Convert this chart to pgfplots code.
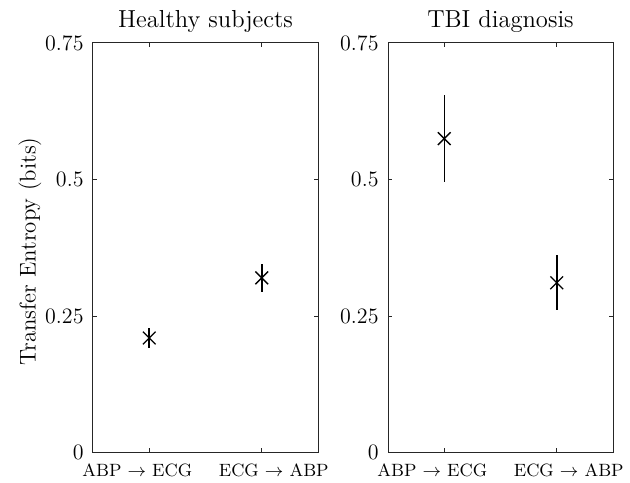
\documentclass[border=0pt]{standalone}
\usepackage{pgfplots}
\pgfplotsset{compat=1.18}
\definecolor{axgray}{gray}{0.15}
\pgfplotsset{
  teaxis/.style={
    scale only axis,
    width=112.5pt, height=204.85pt,
    xmin=0.5, xmax=2.5, ymin=0, ymax=0.75,
    xtick={1,2},
    ytick={0,0.25,0.5,0.75},
    yticklabels={0,0.25,0.5,0.75},
    xticklabels={{ABP $\rightarrow$ ECG\hspace*{12pt}},{\hspace*{12pt}ECG $\rightarrow$ ABP}},
    tick align=inside,
    major tick length=2.2pt,
    axis line style={axgray, line width=0.5pt},
    every tick/.style={axgray, line width=0.5pt},
    yticklabel style={font=\fontsize{11}{13}\selectfont, xshift=-1.2pt},
    xticklabel style={font=\fontsize{8.9}{10}\selectfont, yshift=-2pt},
    title style={font=\fontsize{12.3}{14}\selectfont, at={(axis description cs:0.5,1)}, anchor=base, yshift=1.5pt},
    ylabel style={font=\fontsize{11.4}{14}\selectfont, at={(axis description cs:-0.28,0.491)}, anchor=center},
  },
  teplot/.style={
    black, line width=0.65pt, only marks, mark=x, mark size=4.5pt,
    mark options={line width=0.65pt},
    error bars/.cd, y dir=both, y explicit, error mark=none,
    error bar style={line width=0.75pt, black},
  },
}
\begin{document}
\begin{tikzpicture}
\useasboundingbox (-46.5pt,-14.65pt) rectangle (268.5pt,226.35pt);
\begin{axis}[teaxis, at={(0pt,0pt)}, anchor=south west,
  title={Healthy subjects}, ylabel={Transfer Entropy (bits)}]
\addplot+[teplot] coordinates {
  (1,0.210) +- (0,0.018)
  (2,0.320) +- (0,0.025)
};
\end{axis}
\begin{axis}[teaxis, at={(147.5pt,0pt)}, anchor=south west,
  title={TBI diagnosis}]
\addplot+[teplot] coordinates {
  (1,0.575) +- (0,0.080)
  (2,0.311) +- (0,0.050)
};
\end{axis}
\end{tikzpicture}
\end{document}
